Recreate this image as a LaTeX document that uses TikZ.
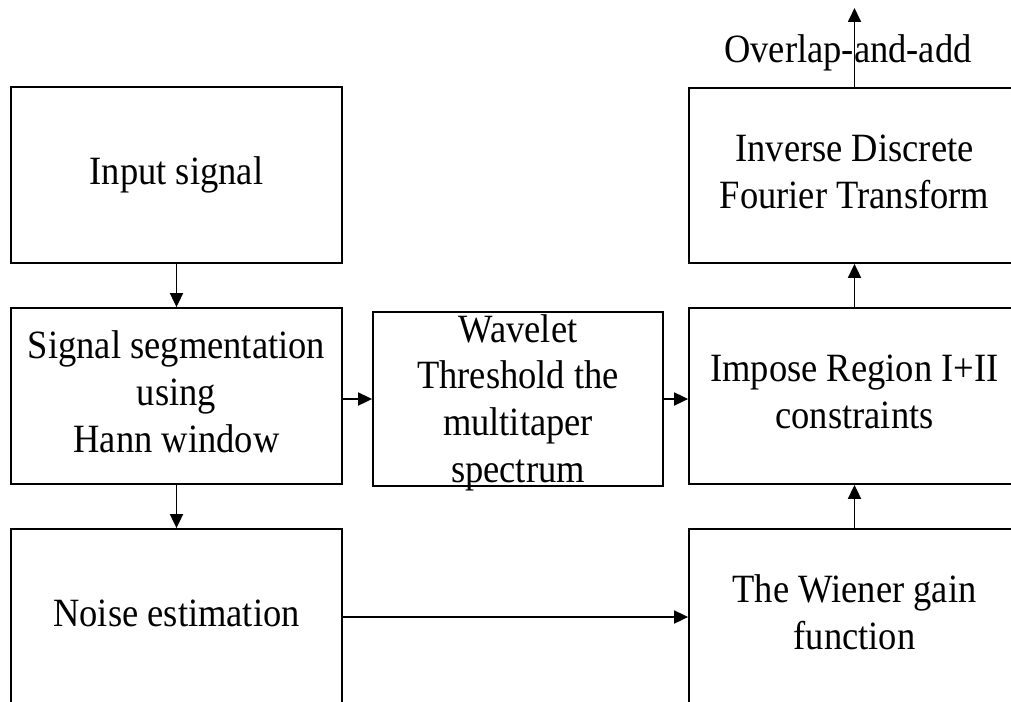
\documentclass[tikz,border=0pt]{standalone}
\usepackage{fontspec}
\usepackage{graphicx}
\setmainfont{Liberation Serif}
\usetikzlibrary{arrows.meta}
% centred lines of text, slightly stretched upright
\newcommand\boxtext[1]{\scalebox{1}[1.1]{\begin{tabular}{@{}c@{}}#1\end{tabular}}}
\begin{document}
\begin{tikzpicture}[x=1pt,y=-1pt,
  box/.style={draw, line width=1.8pt, inner sep=0pt, align=center,
    font=\fontsize{36.5}{42.5}\selectfont},
  lbl/.style={inner sep=0pt, font=\fontsize{36.5}{42.5}\selectfont},
  arr/.style={line width=1.8pt, -{Triangle[width=13pt,length=14pt]}}]
\clip (0,0) rectangle (1011,701);

% left column
\node[box, minimum width=331pt, minimum height=176pt] (inp) at (176.5,175) {\boxtext{Input signal}};
\node[box, minimum width=331pt, minimum height=176pt] (seg) at (176.5,396)
  {\boxtext{Signal segmentation\\using\\Hann window}};
\node[box, minimum width=331pt, minimum height=176pt] (noi) at (176.5,617) {\boxtext{Noise estimation}};

% middle: fixed frame, text may run over its edges
\node[box, minimum width=290pt, minimum height=174pt] (wav) at (518,399) {};
\node[lbl] (wavtxt) at ([yshift=-4pt]wav.center) {\boxtext{Wavelet\\Threshold the\\multitaper\\spectrum}};

% right column
\node[box, minimum width=331pt, minimum height=175pt] (idf) at (854.5,175.5)
  {\boxtext{Inverse Discrete\\Fourier Transform}};
\node[box, minimum width=331pt, minimum height=176pt] (imp) at (854.5,396)
  {\boxtext{Impose Region I+II\\constraints}};
\node[box, minimum width=331pt, minimum height=176pt] (wie) at (854.5,617)
  {\boxtext{The Wiener gain\\function}};

\node[lbl] (ola) at (848,53) {\boxtext{Overlap-and-add}};
\coordinate (out) at (854.5,8);

% connectors
\draw[arr] (inp) -- (seg);
\draw[arr] (seg) -- (noi);
\draw[arr] (seg.east |- wav.west) -- (wav.west);
\draw[arr] (wav.east) -- (imp.west |- wav.east);
\draw[arr] (noi) -- (wie);
\draw[arr] (wie) -- (imp);
\draw[arr] (imp) -- (idf);
\draw[arr] (idf.north) -- (out);
\end{tikzpicture}
\end{document}
